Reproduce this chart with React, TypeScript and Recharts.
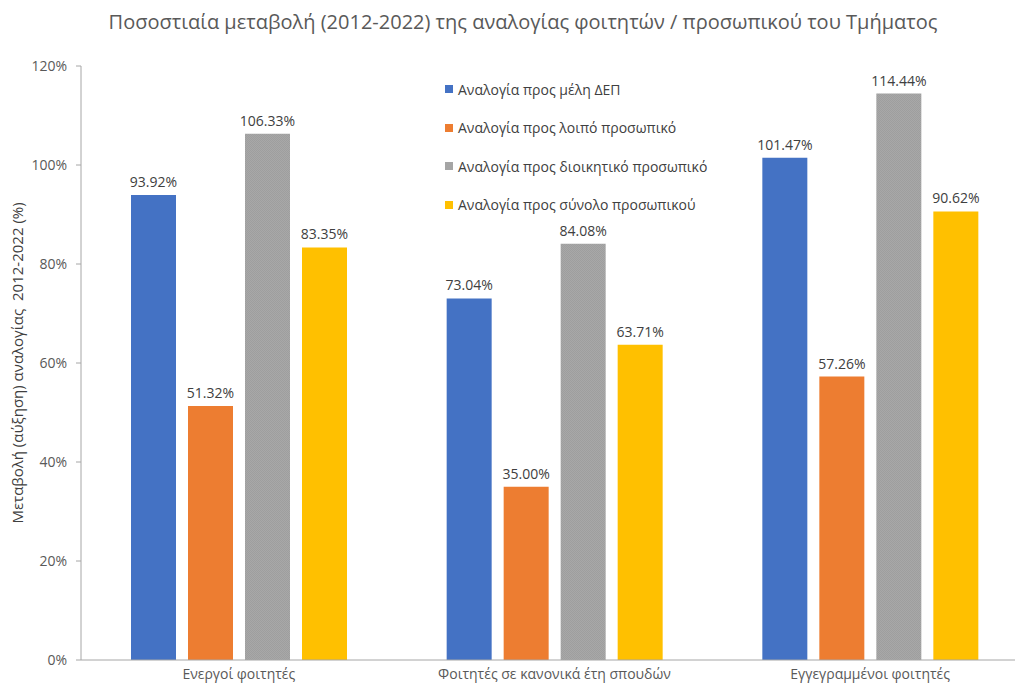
import React from 'react';
import { BarChart, Bar, XAxis, YAxis, LabelList, Label } from 'recharts';

const categories = ['Ενεργοί φοιτητές', 'Φοιτητές σε κανονικά έτη σπουδών', 'Εγγεγραμμένοι φοιτητές'];
const depValues = [93.92, 73.04, 101.47];
const loipoValues = [51.32, 35.0, 57.26];
const dioikValues = [106.33, 84.08, 114.44];
const synoloValues = [83.35, 63.71, 90.62];
const yTicks = [0, 20, 40, 60, 80, 100, 120];

const seriesNames = [
  'Αναλογία προς μέλη ΔΕΠ',
  'Αναλογία προς λοιπό προσωπικό',
  'Αναλογία προς διοικητικό προσωπικό',
  'Αναλογία προς σύνολο προσωπικού',
];
const seriesColors = ['#4472C4', '#ED7D31', '#A5A5A5', '#FFC000'];

const data = categories.map((c, i) => ({
  name: c,
  dep: depValues[i],
  loipo: loipoValues[i],
  dioik: dioikValues[i],
  synolo: synoloValues[i],
}));

const FONT = '"Open Sans", "Noto Sans", sans-serif';

const fmt = (v: any) => `${Number(v).toFixed(2)}%`;

export default function App() {
  return (
    <div style={{ position: 'absolute', left: 0, top: 0, width: 1015, height: 689, overflow: 'hidden', background: '#fff' }}>
      <div
        style={{
          position: 'absolute',
          left: 0,
          top: 8,
          width: 1046,
          textAlign: 'center',
          fontFamily: FONT,
          fontSize: 20,
          color: '#595959',
          whiteSpace: 'nowrap',
        }}
      >
        Ποσοστιαία μεταβολή (2012-2022) της αναλογίας φοιτητών / προσωπικού του Τμήματος
      </div>
      <div
        style={{
          position: 'absolute',
          left: 445,
          top: 70,
          fontFamily: FONT,
          fontSize: 14,
          color: '#404040',
          zIndex: 2,
        }}
      >
        {seriesNames.map((n, i) => (
          <div key={n} style={{ display: 'flex', alignItems: 'center', height: 38.5 }}>
            <span style={{ display: 'inline-block', width: 8, height: 8, background: seriesColors[i], marginRight: 5 }} />
            <span>{n}</span>
          </div>
        ))}
      </div>
      <BarChart
        width={1028}
        height={689}
        data={data}
        margin={{ top: 66, right: 0, bottom: 0, left: 0 }}
        barGap={12}
        barCategoryGap={50}
      >
        <defs>
          <pattern id="grayTex" width="2" height="2" patternUnits="userSpaceOnUse">
            <rect width="2" height="2" fill="#A8A8A8" />
            <rect width="1" height="1" fill="#9E9E9E" />
            <rect x="1" y="1" width="1" height="1" fill="#9E9E9E" />
          </pattern>
        </defs>
        <XAxis
          dataKey="name"
          height={29}
          tickLine={false}
          axisLine={{ stroke: '#A6A6A6' }}
          tick={{ fill: '#595959', fontSize: 14, fontFamily: FONT }}
          tickMargin={3}
        />
        <YAxis
          width={81}
          domain={[0, 120]}
          ticks={yTicks}
          interval={0}
          tickFormatter={(v: any) => `${v}%`}
          axisLine={{ stroke: '#A6A6A6' }}
          tickLine={{ stroke: '#A6A6A6' }}
          tickSize={5}
          tick={{ fill: '#595959', fontSize: 14, fontFamily: FONT }}
          tickMargin={9}
        >
          <Label
            content={(props: any) => {
              const vb = props.viewBox || {};
              const cy = (vb.y ?? 66) + (vb.height ?? 594) / 2;
              return (
                <text
                  x={0}
                  y={0}
                  transform={`translate(23, ${cy}) rotate(-90)`}
                  textAnchor="middle"
                  fill="#404040"
                  fontSize={15}
                  fontFamily={FONT}
                  style={{ whiteSpace: 'pre' }}
                >
                  {'Μεταβολή (αύξηση) αναλογίας  2012-2022 (%)'}
                </text>
              );
            }}
          />
        </YAxis>
        <Bar dataKey="dep" name={seriesNames[0]} fill={seriesColors[0]} barSize={45} isAnimationActive={false}>
          <LabelList dataKey="dep" position="top" offset={8} formatter={fmt} fill="#404040" fontSize={14} fontFamily={FONT} />
        </Bar>
        <Bar dataKey="loipo" name={seriesNames[1]} fill={seriesColors[1]} barSize={45} isAnimationActive={false}>
          <LabelList dataKey="loipo" position="top" offset={8} formatter={fmt} fill="#404040" fontSize={14} fontFamily={FONT} />
        </Bar>
        <Bar dataKey="dioik" name={seriesNames[2]} fill="url(#grayTex)" barSize={45} isAnimationActive={false}>
          <LabelList dataKey="dioik" position="top" offset={8} formatter={fmt} fill="#404040" fontSize={14} fontFamily={FONT} />
        </Bar>
        <Bar dataKey="synolo" name={seriesNames[3]} fill={seriesColors[3]} barSize={45} isAnimationActive={false}>
          <LabelList dataKey="synolo" position="top" offset={8} formatter={fmt} fill="#404040" fontSize={14} fontFamily={FONT} />
        </Bar>
      </BarChart>
    </div>
  );
}
